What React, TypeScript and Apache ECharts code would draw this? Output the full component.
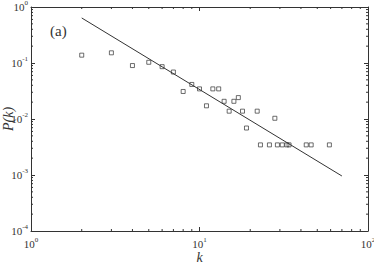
import React, { useEffect, useRef } from "react";
import * as echarts from "echarts";

const kValues = [2, 3, 4, 5, 6, 7, 8, 9, 10, 11, 12, 13, 14, 15, 16, 17, 18, 19, 22, 23, 26, 28, 29, 31, 33, 34, 43, 46, 59];
const pValues = [0.138, 0.152, 0.09, 0.103, 0.086, 0.069, 0.031, 0.0414, 0.0345, 0.0172, 0.0345, 0.0345, 0.0207, 0.0138, 0.0207, 0.0241, 0.0138, 0.0069, 0.0138, 0.00345, 0.00345, 0.0103, 0.00345, 0.00345, 0.00345, 0.00345, 0.00345, 0.00345, 0.00345];
const fitK = [2, 70];
const fitP = [0.637, 0.00096];
const xMinorTicks = [2, 3, 4, 5, 6, 7, 8, 9, 20, 30, 40, 50, 60, 70, 80, 90];
const yMinorTicks = [
  2e-4, 3e-4, 4e-4, 5e-4, 6e-4, 7e-4, 8e-4, 9e-4,
  2e-3, 3e-3, 4e-3, 5e-3, 6e-3, 7e-3, 8e-3, 9e-3,
  2e-2, 3e-2, 4e-2, 5e-2, 6e-2, 7e-2, 8e-2, 9e-2,
  0.2, 0.3, 0.4, 0.5, 0.6, 0.7, 0.8, 0.9,
];

const X_MIN = 1, X_MAX = 100, Y_MIN = 1e-4, Y_MAX = 1;
const FONT = "Liberation Serif";
const INK = "#333";

const powLabel = (v: number) => {
  const e = Math.round(Math.log10(v));
  return `{b|10}{s|${e}}`;
};
const rich = {
  b: { fontFamily: FONT, fontSize: 11, color: INK },
  s: { fontFamily: FONT, fontSize: 7, color: INK, padding: [0, 0, 8, 0] },
};

export default function App() {
  const ref = useRef<HTMLDivElement>(null);
  useEffect(() => {
    if (!ref.current) return;
    const chart = echarts.init(ref.current, undefined, { renderer: "svg" });
    const axisLine = { show: true, lineStyle: { color: INK, width: 1 } };
    const tick = { show: true, inside: true, length: 4, lineStyle: { color: INK } };
    chart.setOption({
      animation: false,
      backgroundColor: "#fff",
      grid: { left: 31, right: 6, top: 7, bottom: 35, containLabel: false, outerBoundsMode: "none" },
      title: {
        text: "(a)",
        left: 45,
        top: 18,
        textStyle: { fontFamily: FONT, fontSize: 15, fontWeight: "normal", color: INK },
      },
      xAxis: [
        {
          type: "log", logBase: 10, min: X_MIN, max: X_MAX, position: "bottom",
          axisLine, axisTick: tick, splitLine: { show: false },
          axisLabel: { formatter: powLabel, rich, margin: 5 },
          name: "k", nameLocation: "middle", nameGap: 19, nameMoveOverlap: false,
          nameTextStyle: { fontFamily: FONT, fontStyle: "italic", fontSize: 14, color: INK },
        },
        {
          type: "log", logBase: 10, min: X_MIN, max: X_MAX, position: "top",
          axisLine, axisTick: tick, splitLine: { show: false }, axisLabel: { show: false },
        },
      ],
      yAxis: [
        {
          type: "log", logBase: 10, min: Y_MIN, max: Y_MAX, position: "left",
          axisLine, axisTick: tick, splitLine: { show: false },
          axisLabel: { formatter: powLabel, rich, margin: 3 },
          name: "P(k)", nameLocation: "middle", nameGap: 16, nameMoveOverlap: false,
          nameTextStyle: { fontFamily: FONT, fontStyle: "italic", fontSize: 14, color: INK },
        },
        {
          type: "log", logBase: 10, min: Y_MIN, max: Y_MAX, position: "right",
          axisLine, axisTick: tick, splitLine: { show: false }, axisLabel: { show: false },
        },
      ],
      series: [
        {
          type: "custom",
          silent: true,
          clip: false,
          data: xMinorTicks.map((v) => [v, Y_MIN]),
          renderItem: (params: any, api: any) => {
            const v = api.value(0);
            const b = api.coord([v, Y_MIN]);
            const t = api.coord([v, Y_MAX]);
            const st = { stroke: INK, lineWidth: 1 };
            return {
              type: "group",
              children: [
                { type: "line", shape: { x1: b[0], y1: b[1], x2: b[0], y2: b[1] - 2 }, style: st },
                { type: "line", shape: { x1: t[0], y1: t[1], x2: t[0], y2: t[1] + 2 }, style: st },
              ],
            };
          },
        },
        {
          type: "custom",
          silent: true,
          clip: false,
          data: yMinorTicks.map((v) => [X_MIN, v]),
          renderItem: (params: any, api: any) => {
            const v = api.value(1);
            const l = api.coord([X_MIN, v]);
            const r = api.coord([X_MAX, v]);
            const st = { stroke: INK, lineWidth: 1 };
            return {
              type: "group",
              children: [
                { type: "line", shape: { x1: l[0], y1: l[1], x2: l[0] + 2, y2: l[1] }, style: st },
                { type: "line", shape: { x1: r[0], y1: r[1], x2: r[0] - 2, y2: r[1] }, style: st },
              ],
            };
          },
        },
        {
          type: "line",
          data: fitK.map((k, i) => [k, fitP[i]]),
          showSymbol: false,
          symbol: "none",
          lineStyle: { color: INK, width: 1 },
        },
        {
          type: "scatter",
          data: kValues.map((k, i) => [k, pValues[i]]),
          symbol: "rect",
          symbolSize: 4,
          itemStyle: { color: "transparent", borderColor: INK, borderWidth: 0.9 },
        },
      ],
    });
    return () => chart.dispose();
  }, []);
  return <div ref={ref} style={{ width: 374, height: 266, position: "absolute", left: 0, top: 0 }} />;
}
